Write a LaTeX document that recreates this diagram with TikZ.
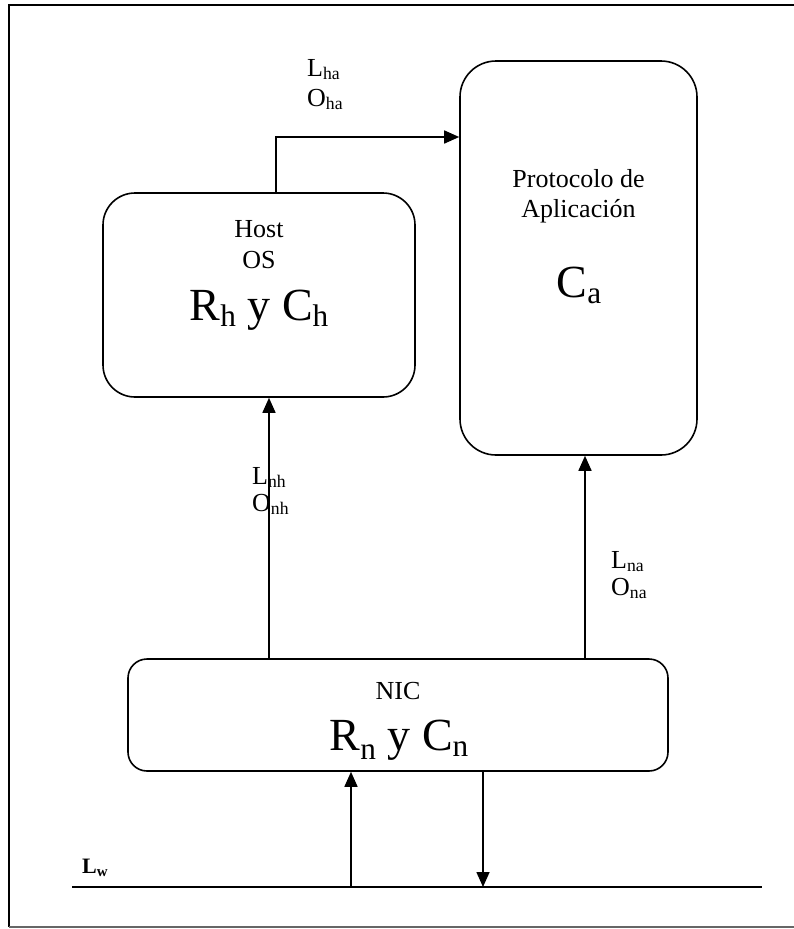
\documentclass[tikz,border=0pt]{standalone}
\usepackage{fontspec}
\setmainfont{Liberation Serif}
\usetikzlibrary{arrows.meta}
% lowered, smaller subscript in text font
\newcommand\lowsub[1]{\raisebox{-0.3ex}{\scalebox{0.68}{#1}}}
\begin{document}
\begin{tikzpicture}[x=1pt,y=-1pt,
  blk/.style={draw, line width=1.6pt, rectangle, inner sep=0pt},
  txt/.style={inner sep=0pt, anchor=base, font=\fontsize{26}{30}\selectfont},
  bigtxt/.style={inner sep=0pt, anchor=base, font=\fontsize{46}{50}\selectfont},
  lbl/.style={inner sep=0pt, anchor=base west, font=\fontsize{26}{30}\selectfont},
  arr/.style={line width=1.6pt, -{Triangle[length=15pt,width=13pt]}},
  wire/.style={line width=1.6pt}]
\useasboundingbox (0,0) rectangle (794,929);

% outer frame (open on the right)
\draw[line width=2pt] (794,5) -- (9,5) -- (9,927);
\draw[line width=1.5pt, black!60] (9,927) -- (794,927);

% blocks
\node[blk, rounded corners=32pt, minimum width=312pt, minimum height=204pt] (host) at (259,295) {};
\node[blk, rounded corners=36pt, minimum width=237pt, minimum height=394pt] (proto) at (578.5,258) {};
\node[blk, rounded corners=19pt, minimum width=540pt, minimum height=112pt] (nic) at (398,715) {};

% block texts
\node[txt] (hostT) at (259,237) {Host};
\node[txt] (osT) at (259,268) {OS};
\node[bigtxt] (rhT) at (259,320) {R\lowsub{h} y C\lowsub{h}};
\node[txt] (protoT) at (578.5,187) {Protocolo de};
\node[txt] (aplT) at (578.5,217) {Aplicación};
\node[bigtxt] (caT) at (579,297) {C\lowsub{a}};
\node[txt] (nicT) at (398,699) {NIC};
\node[bigtxt] (rnT) at (399,750) {R\raisebox{-0.15ex}{\lowsub{n}} y C\lowsub{n}};

% wire line
\coordinate (wa) at (72,887);
\coordinate (wb) at (762,887);
\draw[wire] (wa) -- (wb);
\node[inner sep=0pt, anchor=base west, font=\fontsize{22}{26}\selectfont\bfseries] (lw) at (82,873) {L\lowsub{w}};

% connector x positions
\coordinate (ha) at (276,137);
\coordinate (nh) at (269,0);
\coordinate (na) at (585,0);
\coordinate (up) at (351,0);
\coordinate (dn) at (483,0);

% connectors
\draw[arr] (host.north -| ha) |- (proto.west |- ha);
\draw[arr] (nic.north -| nh) -- (host.south -| nh);
\draw[arr] (nic.north -| na) -- (proto.south -| na);
\draw[arr] (wa -| up) -- (nic.south -| up);
\draw[arr] (nic.south -| dn) -- (wa -| dn);

% connector labels
\node[lbl] (lha) at (307,76) {L\lowsub{ha}};
\node[lbl] (oha) at (307,106) {O\lowsub{ha}};
\node[lbl] (lnh) at (252,484) {L\lowsub{nh}};
\node[lbl] (onh) at (252,511) {O\lowsub{nh}};
\node[lbl] (lna) at (611,568) {L\lowsub{na}};
\node[lbl] (ona) at (611,595) {O\lowsub{na}};
\end{tikzpicture}
\end{document}
